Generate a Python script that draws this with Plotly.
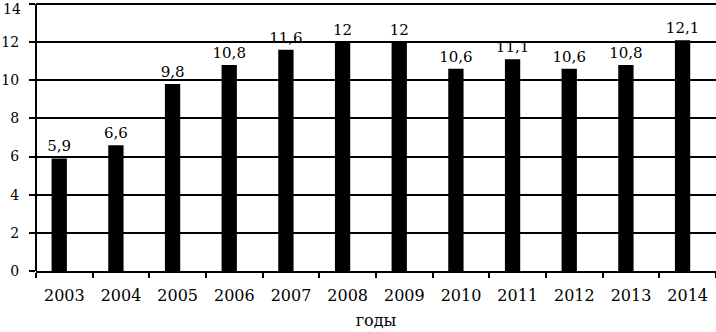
import plotly.graph_objects as go

years = ["2003", "2004", "2005", "2006", "2007", "2008", "2009", "2010", "2011", "2012", "2013", "2014"]
values = [5.9, 6.6, 9.8, 10.8, 11.6, 12, 12, 10.6, 11.1, 10.6, 10.8, 12.1]
y_ticks = [0, 2, 4, 6, 8, 10, 12, 14]

FONT = "DejaVu Serif, Liberation Serif, serif"

fig = go.Figure()
fig.add_trace(go.Bar(
    x=years, y=values,
    width=0.27, offset=-0.225,
    marker=dict(color="black", line=dict(width=0)),
    texttemplate="%{y}",
    textposition="outside",
    constraintext="none",
    cliponaxis=False,
    textfont=dict(family=FONT, size=15, color="black"),
))

fig.update_layout(
    width=716, height=332,
    margin=dict(l=36, r=0, t=0, b=61),
    paper_bgcolor="white", plot_bgcolor="white",
    separators=", ",
    showlegend=False,
    uniformtext=dict(minsize=15, mode="show"),
    font=dict(family=FONT, size=15, color="black"),
    xaxis=dict(
        type="category", automargin=False,
        showline=True, linecolor="black", linewidth=2,
        ticks="outside", tickson="boundaries", ticklen=5, tickwidth=2, tickcolor="black",
        ticklabelstandoff=9,
        showgrid=False,
        tickfont=dict(family=FONT, size=16, color="black"),
        title=dict(text="годы", font=dict(family=FONT, size=16, color="black"), standoff=11),
    ),
    yaxis=dict(
        range=[0, 14.21], tickvals=y_ticks, automargin=False,
        showline=False,
        ticks="outside", ticklen=6, tickwidth=2, tickcolor="black",
        ticklabelstandoff=7,
        showgrid=True, gridcolor="black", gridwidth=2,
        zeroline=False,
        tickfont=dict(family=FONT, size=14, color="black"),
    ),
)
# y-axis line from 0 to the top tick only
fig.add_shape(type="line", xref="paper", yref="y", x0=0, x1=0, y0=0, y1=y_ticks[-1],
              line=dict(color="black", width=2))
# top tick label, kept just inside the top edge of the figure
fig.add_annotation(x=0, xref="paper", y=y_ticks[-1], yref="y", text=str(y_ticks[-1]),
                   showarrow=False, xanchor="right", yanchor="top", xshift=-14, yshift=4,
                   borderpad=0, font=dict(family=FONT, size=14, color="black"))

fig.write_html(
    "out.html",
    config={"displayModeBar": False},
    post_script="document.body.style.margin='0';document.body.style.overflow='hidden';",
)
